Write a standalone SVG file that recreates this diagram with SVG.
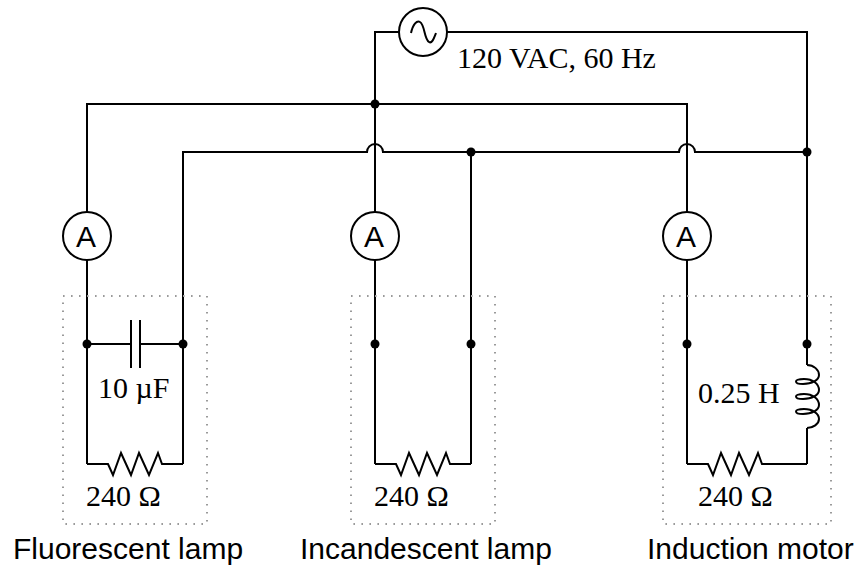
<svg xmlns="http://www.w3.org/2000/svg" width="859" height="567" viewBox="0 0 859 567">
<style>
.w{fill:none;stroke:#000;stroke-width:2;stroke-linejoin:miter}
.c{fill:#fff;stroke:#000;stroke-width:2}
.d{fill:#000;stroke:none}
.b{fill:none;stroke:#9a9a9a;stroke-width:2;stroke-dasharray:1.6 6.4}
.s{font-family:"Liberation Serif",serif;font-size:30px;fill:#000}
.h{font-family:"Liberation Sans",sans-serif;font-size:30px;fill:#000}
</style>
<defs>
<path id="r" class="w" d="M0 0H21L26 11L34 -11L44 11L52 -11L62 11L71 -11L75 0H96"/>
</defs>
<g id="connectors">
<path class="w" d="M399 32H375V344"/>
<path class="w" d="M447 32H807V365"/>
<path class="w" d="M807 428V464"/>
<path class="w" d="M87 344V104H687V344"/>
<path class="w" d="M183 344V152H367A8 8 0 0 1 383 152H679A8 8 0 0 1 695 152H807"/>
<path class="w" d="M471 152V464"/>
<path class="w" d="M87 212V464M183 344V464M375 212V464M687 212V464"/>
<path class="w" d="M87 344H131M140 344H183"/>
</g>
<g id="source"><circle class="c" cx="423" cy="32" r="24"/><path class="w" d="M411 33C413 24 417 20 420 22C425 25 424 39 429 42C432 44 434 38 436 33"/><text class="s" x="457" y="68">120 VAC, 60 Hz</text></g>
<g id="junctions">
<circle class="d" cx="375" cy="104" r="4.500"/><circle class="d" cx="471" cy="152" r="4.500"/><circle class="d" cx="807" cy="152" r="4.500"/>
</g>
<g id="ammeter1"><circle class="c" cx="87" cy="236" r="24"/><text class="h" x="76" y="247">A</text></g>
<g id="ammeter2"><circle class="c" cx="375" cy="236" r="24"/><text class="h" x="364" y="247">A</text></g>
<g id="ammeter3"><circle class="c" cx="687" cy="236" r="24"/><text class="h" x="676" y="247">A</text></g>
<g id="fluorescent">
<rect class="b" x="63" y="296" width="144" height="228"/>
<circle class="d" cx="87" cy="344" r="4.500"/><circle class="d" cx="183" cy="344" r="4.500"/>
<path class="w" d="M131 320V368M140 320V368"/>
<text class="s" x="98" y="398">10 µF</text>
<use href="#r" x="87" y="464"/>
<text class="s" x="86" y="506">240 Ω</text>
<text class="h" x="13" y="559">Fluorescent lamp</text>
</g>
<g id="incandescent">
<rect class="b" x="351" y="296" width="144" height="228"/>
<circle class="d" cx="375" cy="344" r="4.500"/><circle class="d" cx="471" cy="344" r="4.500"/>
<use href="#r" x="375" y="464"/>
<text class="s" x="374" y="506">240 Ω</text>
<text class="h" x="300" y="559">Incandescent lamp</text>
</g>
<g id="motor">
<rect class="b" x="663" y="296" width="168" height="228"/>
<circle class="d" cx="687" cy="344" r="4.500"/><circle class="d" cx="807" cy="344" r="4.500"/>
<path class="w" d="M807 365C814 365 819 370 819 375C819 380 812 384 803 384C798 384 796 383 796 381.500C796 380 799 379 804 379C813 379 819 384 819 390C819 395 812 399 803 399C798 399 796 398 796 396.500C796 395 799 394 804 394C813 394 819 399 819 405C819 410 812 414 803 414C798 414 796 413 796 411.500C796 410 799 409 804 409C813 409 819 414 819 419C819 424 813 428 807 428"/>
<use href="#r" x="687" y="464"/>
<path class="w" d="M783 464H807"/>
<text class="s" x="698" y="403">0.25 H</text>
<text class="s" x="698" y="506">240 Ω</text>
<text class="h" x="647" y="559">Induction motor</text>
</g>
</svg>
